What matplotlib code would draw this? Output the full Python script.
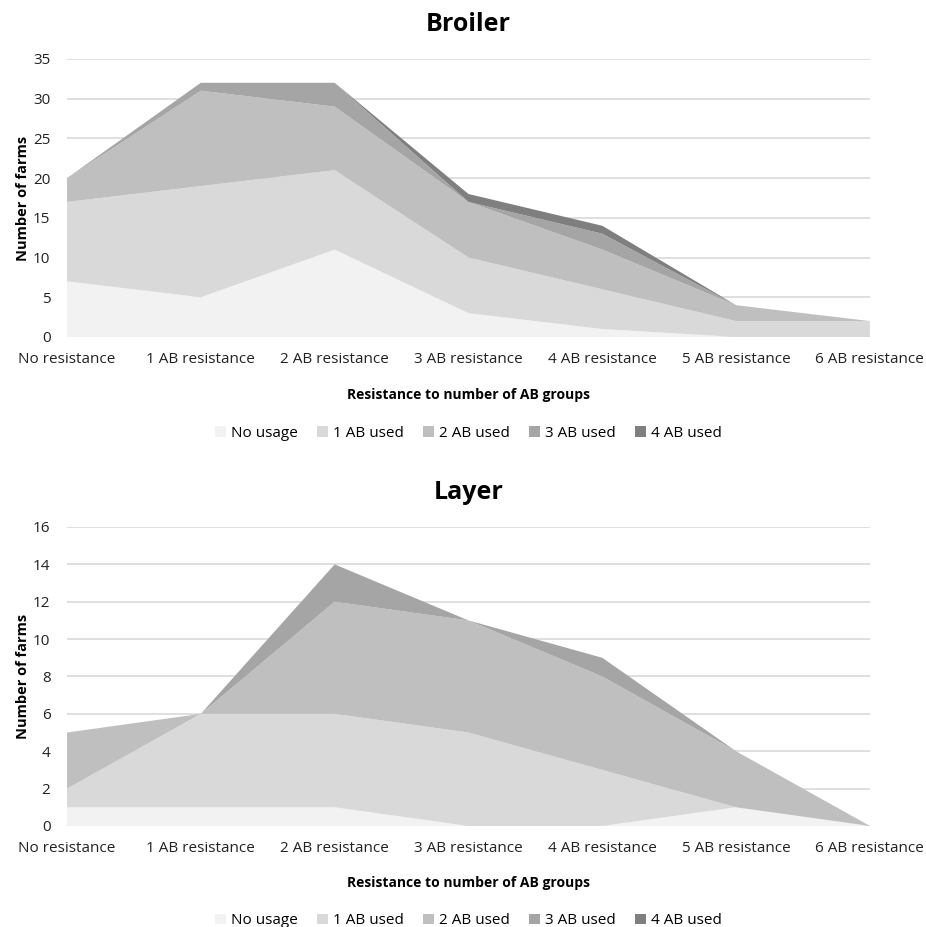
import matplotlib.pyplot as plt

plt.rcParams['font.family'] = ['Open Sans', 'DejaVu Sans']

categories = ["No resistance", "1 AB resistance", "2 AB resistance", "3 AB resistance",
              "4 AB resistance", "5 AB resistance", "6 AB resistance"]
series_names = ["No usage", "1 AB used", "2 AB used", "3 AB used", "4 AB used"]
colors = ["#f2f2f2", "#d9d9d9", "#bfbfbf", "#a5a5a5", "#7f7f7f"]

# broiler farms per usage group
broiler_none = [7, 5, 11, 3, 1, 0, 0]
broiler_1ab = [10, 14, 10, 7, 5, 2, 2]
broiler_2ab = [3, 12, 8, 7, 5, 2, 0]
broiler_3ab = [0, 1, 3, 0, 2, 0, 0]
broiler_4ab = [0, 0, 0, 1, 1, 0, 0]

# layer farms per usage group
layer_none = [1, 1, 1, 0, 0, 1, 0]
layer_1ab = [1, 5, 5, 5, 3, 0, 0]
layer_2ab = [3, 0, 6, 6, 5, 3, 0]
layer_3ab = [0, 0, 2, 0, 1, 0, 0]
layer_4ab = [0, 0, 0, 0, 0, 0, 0]

fig = plt.figure(figsize=(9.26, 9.27), dpi=100)
ax1 = fig.add_axes([0.0724, 0.6365, 0.867, 0.2999])
ax2 = fig.add_axes([0.0724, 0.109, 0.867, 0.3225])


def draw(ax, data, title, ymax, step, legend_y, xlabelpad):
    x = list(range(len(categories)))
    ax.stackplot(x, *data, colors=colors, labels=series_names, linewidth=0)
    ax.set_xlim(0, len(categories) - 1)
    ax.set_ylim(0, ymax)
    ax.set_yticks(range(0, ymax + 1, step))
    ax.set_xticks(x)
    ax.set_xticklabels(categories)
    ax.yaxis.grid(True, color="#d9d9d9", linewidth=1.2)
    ax.set_axisbelow(True)
    for sp in ax.spines.values():
        sp.set_visible(False)
    ax.tick_params(length=0, labelsize=11, colors="#222222")
    ax.tick_params(axis='y', pad=12)
    ax.tick_params(axis='x', pad=11)
    ax.set_title(title, fontsize=18, fontweight='bold', pad=20)
    ax.set_ylabel("Number of farms", fontsize=10.5, fontweight='bold', labelpad=2)
    ax.set_xlabel("Resistance to number of AB groups", fontsize=10, fontweight='bold',
                  labelpad=xlabelpad)
    ax.legend(loc='center', bbox_to_anchor=(0.5, legend_y), ncol=5, frameon=False,
              handlelength=0.7, handleheight=0.7, handletextpad=0.3, columnspacing=1.3,
              fontsize=11)


draw(ax1, [broiler_none, broiler_1ab, broiler_2ab, broiler_3ab, broiler_4ab], "Broiler", 35, 5, -0.346, 15)
draw(ax2, [layer_none, layer_1ab, layer_2ab, layer_3ab, layer_4ab], "Layer", 16, 2, -0.317, 14)

fig.savefig("out.png", dpi=100, facecolor="white")
